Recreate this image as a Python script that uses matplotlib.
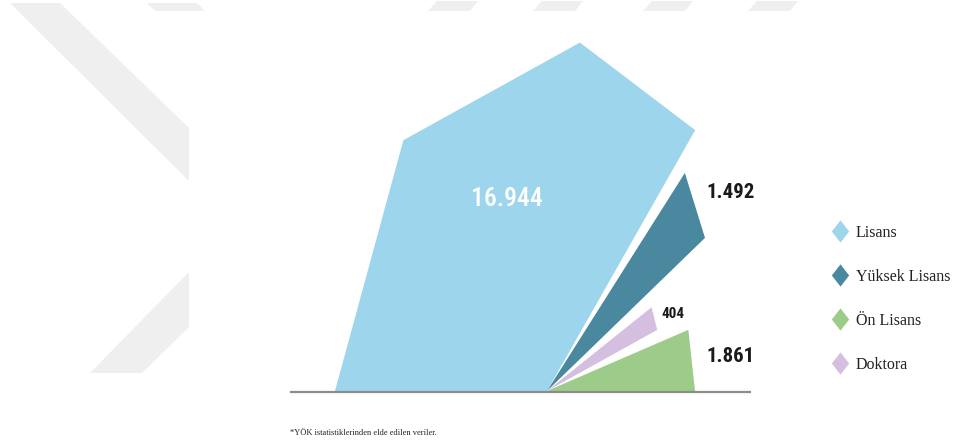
import numpy as np
import matplotlib
matplotlib.use("Agg")
import matplotlib.pyplot as plt
from matplotlib.lines import Line2D
from matplotlib.patches import Polygon, Rectangle

# öğrenim düzeyine göre sayılar (YÖK)
categories = ["Lisans", "Yüksek Lisans", "Ön Lisans", "Doktora"]
values = [16944, 1492, 1861, 404]
colors = ["#9dd5ec", "#4a88a0", "#9ccb8a", "#d5bfe0"]

# her dilimin dış hattı: (açı derece, yarıçap px), merkezden çıkıp merkeze döner
outlines = {
    "Lisans": [(180, 212), (119.8, 289), (84.6, 350), (60.4, 300)],
    "Yüksek Lisans": [(57.7, 258), (44.1, 220)],
    "Doktora": [(38.7, 134), (29.0, 126)],
    "Ön Lisans": [(23.4, 154), (0.0, 148)],
}
# etiket konumları (px) ve stilleri
label_pos = {
    "Lisans": (507, 199, "center", 18.5, "white"),
    "Yüksek Lisans": (706, 192, "left", 15, "#1a1a1a"),
    "Doktora": (662, 314, "left", 11, "#1a1a1a"),
    "Ön Lisans": (706, 357, "left", 15, "#1a1a1a"),
}

W, H = 956, 447
cx, cy = 547, 391


def fmt(v):
    return f"{v:,}".replace(",", ".")


def to_xy(ang, r):
    a = np.deg2rad(ang)
    return cx + r * np.cos(a), cy - r * np.sin(a)


fig = plt.figure(figsize=(W / 100, H / 100), dpi=100)
ax = fig.add_axes([0, 0, 1, 1])
ax.set_xlim(0, W)
ax.set_ylim(H, 0)
ax.axis("off")

# arka plandaki soluk filigran şeritleri
wm = "#efefef"
bands = [
    [(10, 3), (60, 3), (189, 128), (189, 181)],
    [(147, 3), (197, 3), (205, 11), (155, 11)],
    [(90, 373), (142, 373), (189, 327), (189, 272)],
]
for x0 in [428, 533, 643, 748]:
    bands.append([(x0, 11), (x0 + 9, 1), (x0 + 50, 1), (x0 + 42, 11)])
for b in bands:
    ax.add_patch(Polygon(b, closed=True, fc=wm, ec="none", zorder=0))
ax.add_patch(Rectangle((189, 11), W - 189, H - 11, fc="white", ec="none", zorder=1))

# dilimler
for cat, col in zip(categories, colors):
    pts = [(cx, cy)] + [to_xy(a, r) for a, r in outlines[cat]]
    xs, ys = zip(*pts)
    ax.fill(xs, ys, color=col, lw=0, zorder=3)

ax.plot([290, 751], [cy + 1, cy + 1], color="#8c8c8c", lw=1.6, zorder=4,
        solid_capstyle="butt")

for cat, v in zip(categories, values):
    x, y, ha, fs, c = label_pos[cat]
    ax.text(x, y, fmt(v), ha=ha, va="center", fontsize=fs, color=c,
            family=["Roboto Condensed", "DejaVu Sans"],
            fontweight="bold" if cat != "Lisans" else "medium", zorder=5)

# lejant
diamond = [(0, 1), (0.78, 0), (0, -1), (-0.78, 0), (0, 1)]
handles = [Line2D([], [], ls="none", marker=diamond, markersize=16,
                  markerfacecolor=c, markeredgecolor="none") for c in colors]
leg = ax.legend(handles, categories, loc="upper left",
                bbox_to_anchor=(832, 225), bbox_transform=ax.transData,
                frameon=False, handlelength=1.0, handletextpad=0.5,
                labelspacing=1.75, borderpad=0, borderaxespad=0,
                prop={"family": "Liberation Serif", "size": 11.5})
for t in leg.get_texts():
    t.set_color("#222222")

ax.text(290, 433, "*YÖK istatistiklerinden elde edilen veriler.", fontsize=6,
        family="Liberation Serif", color="#222222", va="center", ha="left")

fig.savefig("out.png", dpi=100)
